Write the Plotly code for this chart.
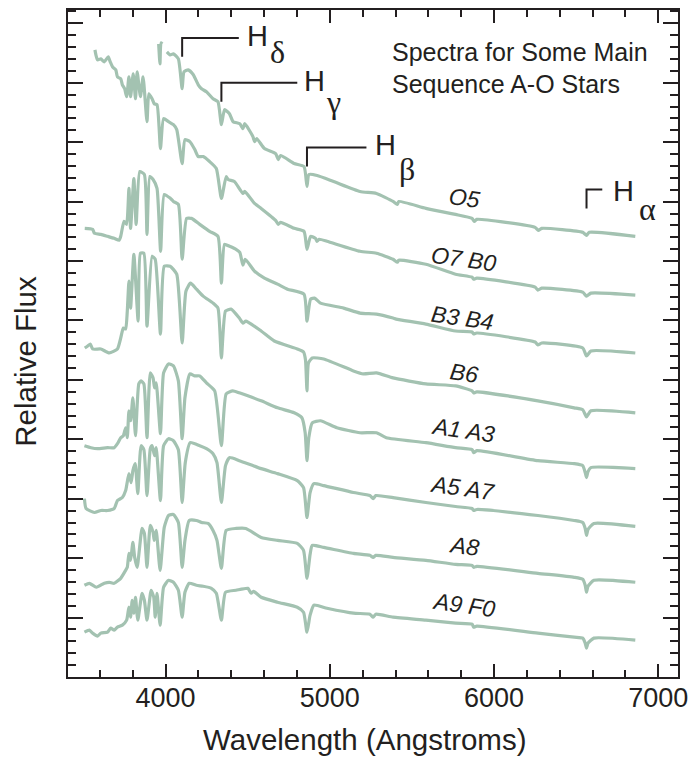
import plotly.graph_objects as go

# ---------------- data (wavelength in Angstroms, relative flux with vertical offsets) -------------
o5_wl = [3958, 3966, 3972, 3980, None, 4008, 4028, 4048, 4078, 4101, 4112, 4138, 4169, 4199, 4219, 4249,
         4289, 4319, 4340, 4359, 4389, 4411, 4452, 4471, 4482, 4532, 4542, 4555, 4602, 4670, 4686, 4700,
         4783, 4843, 4861, 4873, 4923, 5023, 5184, 5284, 5385, 5411, 5420, 5585, 5766, 5866, 5880, 5895,
         6250, 6270, 6290, 6540, 6563, 6580, 6860]
o5_flux = [635, 615, 636, 635, None, 627, 624, 625, 620, 590, 607, 609, 604, 594, 590, 587,
           580, 577, 554, 569, 565, 557, 555, 550, 555, 542, 537, 540, 530, 525, 519, 523,
           515, 512, 492, 504, 503, 497, 487, 485, 477, 474, 477, 470, 464, 460, 457, 459,
           451, 448, 450, 446, 443, 446, 442]

o7b0_wl = [3570, 3576, 3586, 3606, 3627, 3651, 3663, 3677, 3697, 3707, 3727, 3737, 3751, 3763, 3777,
           3787, 3803, 3817, 3827, 3847, 3863, 3887, 3898, 3918, 3931, 3948, 3969, 3988, 4018, 4048,
           4068, 4101, 4118, 4148, 4178, 4199, 4229, 4268, 4309, 4340, 4369, 4381, 4419, 4471, 4482,
           4542, 4582, 4670, 4686, 4700, 4783, 4843, 4861, 4883, 4913, 4922, 4935, 4983, 5184, 5284,
           5385, 5411, 5420, 5585, 5766, 5866, 5876, 5895, 6250, 6267, 6290, 6540, 6563, 6590, 6860]
o7b0_flux = [629, 624, 619, 620, 617, 622, 617, 612, 609, 602, 600, 594, 590, 582, 602,
             582, 605, 580, 607, 582, 602, 557, 585, 580, 575, 574, 530, 560, 557, 554,
             549, 515, 539, 537, 529, 522, 522, 517, 510, 480, 502, 499, 497, 485, 487,
             475, 470, 458, 454, 456, 450, 447, 429, 442, 440, 437, 439, 437, 427, 425,
             419, 416, 418, 414, 404, 401, 399, 400, 391, 388, 390, 386, 382, 385, 383]

b3b4_wl = [3508, 3556, 3567, 3606, 3647, 3687, 3717, 3727, 3747, 3763, 3777, 3787, 3807, 3821, 3843,
           3871, 3887, 3904, 3924, 3948, 3970, 3992, 4030, 4048, 4078, 4101, 4128, 4158, 4208, 4268,
           4319, 4340, 4359, 4389, 4429, 4452, 4471, 4485, 4542, 4602, 4682, 4742, 4843, 4861, 4883,
           4907, 4943, 5084, 5184, 5284, 5385, 5404, 5585, 5766, 5866, 5876, 5895, 6250, 6267, 6290,
           6540, 6563, 6590, 6860]
b3b4_flux = [450, 449, 445, 444, 442, 440, 438, 442, 457, 454, 490, 450, 500, 454, 507,
             504, 444, 502, 499, 490, 427, 484, 480, 477, 474, 419, 460, 460, 454, 447,
             442, 395, 434, 432, 429, 426, 413, 419, 407, 400, 394, 389, 384, 357, 379,
             380, 375, 370, 365, 364, 360, 359, 354, 347, 346, 344, 345, 336, 333, 335,
             330, 322, 327, 325]

b6_wl = [3508, 3526, 3542, 3556, 3606, 3657, 3707, 3727, 3743, 3757, 3767, 3777, 3787, 3807,
         3833, 3847, 3868, 3887, 3918, 3937, 3969, 3992, 4028, 4068, 4101, 4124, 4152, 4188, 4229,
         4289, 4319, 4340, 4365, 4399, 4449, 4471, 4489, 4582, 4662, 4802, 4840, 4852, 4861, 4870,
         4893, 4963, 5144, 5204, 5284, 5385, 5585, 5766, 5866, 5876, 5895, 6267, 6488, 6540, 6563,
         6590, 6860]
b6_flux = [330, 332, 334, 329, 329, 325, 329, 340, 350, 349, 367, 397, 370, 424,
           357, 425, 425, 352, 422, 419, 344, 412, 412, 404, 335, 387, 395, 389, 382,
           375, 370, 320, 367, 369, 360, 355, 357, 347, 337, 329, 326, 318, 287, 315,
           320, 319, 307, 304, 305, 300, 294, 292, 287, 285, 286, 277, 270, 268, 261,
           267, 265]

a1a3_wl = [3506, 3546, 3586, 3647, 3687, 3707, 3727, 3743, 3757, 3767, 3777, 3787, 3801, 3817, 3837,
           3851, 3868, 3887, 3907, 3924, 3933, 3943, 3969, 3988, 4018, 4048, 4078, 4101, 4118, 4148,
           4178, 4208, 4249, 4299, 4340, 4369, 4409, 4449, 4501, 4582, 4682, 4783, 4830, 4850, 4861,
           4872, 4893, 4943, 5043, 5184, 5284, 5344, 5585, 5766, 5866, 5876, 5895, 6267, 6488, 6540,
           6555, 6563, 6572, 6589, 6860]
a1a3_flux = [232, 230, 229, 230, 230, 234, 240, 242, 250, 240, 267, 257, 280, 242, 294,
             297, 294, 240, 305, 300, 290, 295, 244, 305, 314, 312, 297, 239, 280, 304,
             302, 302, 295, 287, 232, 284, 287, 285, 282, 277, 270, 265, 260, 245, 217,
             240, 255, 257, 250, 245, 245, 240, 235, 230, 228, 225, 227, 217, 214, 212,
             205, 200, 206, 210, 209]

a5a7_wl = [3506, 3516, 3567, 3606, 3647, 3687, 3707, 3737, 3757, 3777, 3790, 3801, 3815, 3831, 3851,
           3868, 3887, 3907, 3918, 3933, 3943, 3969, 3988, 4018, 4048, 4078, 4101, 4120, 4150, 4208,
           4249, 4289, 4313, 4340, 4365, 4389, 4449, 4501, 4582, 4682, 4802, 4840, 4861, 4880, 4903,
           4963, 5144, 5244, 5264, 5280, 5385, 5585, 5766, 5866, 5876, 5895, 6267, 6488, 6540, 6555,
           6563, 6572, 6608, 6860]
a5a7_flux = [179, 169, 165, 167, 167, 169, 177, 180, 187, 204, 195, 207, 214, 184, 232,
             228, 182, 229, 232, 222, 230, 177, 232, 239, 237, 228, 175, 215, 235, 232,
             229, 224, 215, 175, 212, 220, 217, 214, 209, 204, 197, 190, 160, 185, 194,
             192, 185, 182, 179, 182, 180, 175, 171, 169, 167, 168, 162, 157, 155, 149,
             142, 148, 154, 151]

a8_wl = [3506, 3536, 3579, 3627, 3657, 3687, 3727, 3757, 3767, 3777, 3787, 3801, 3812, 3827, 3857,
         3871, 3887, 3907, 3924, 3931, 3943, 3967, 3992, 4018, 4048, 4078, 4101, 4118, 4144, 4188,
         4219, 4259, 4289, 4313, 4340, 4369, 4429, 4489, 4582, 4682, 4802, 4840, 4861, 4880, 4893,
         4963, 5144, 5244, 5264, 5280, 5385, 5585, 5766, 5866, 5876, 5895, 6267, 6488, 6540, 6555,
         6563, 6572, 6608, 6860]
a8_flux = [92, 94, 90, 94, 95, 94, 99, 107, 110, 124, 117, 135, 120, 110, 149,
           144, 110, 152, 145, 137, 147, 107, 150, 162, 163, 155, 110, 137, 157, 157,
           155, 154, 147, 137, 109, 147, 149, 149, 140, 137, 134, 127, 99, 123, 132,
           130, 124, 122, 120, 122, 120, 117, 113, 112, 110, 111, 104, 100, 98, 92,
           85, 91, 97, 95]

a9f0_wl = [3506, 3536, 3556, 3586, 3606, 3647, 3666, 3687, 3707, 3737, 3763, 3777, 3787, 3797, 3807,
           3817, 3831, 3857, 3871, 3887, 3912, 3928, 3937, 3948, 3967, 3988, 4018, 4048, 4078, 4101,
           4118, 4144, 4188, 4229, 4279, 4309, 4340, 4365, 4429, 4501, 4521, 4535, 4582, 4682, 4802,
           4840, 4861, 4880, 4903, 4983, 5144, 5244, 5264, 5280, 5385, 5585, 5766, 5866, 5876, 5895,
           6267, 6488, 6540, 6555, 6563, 6572, 6608, 6860]
a9f0_flux = [45, 47, 44, 41, 44, 45, 49, 47, 50, 52, 57, 70, 60, 77, 64,
             80, 57, 84, 77, 57, 87, 80, 60, 84, 52, 90, 97, 95, 87, 60,
             85, 94, 92, 91, 89, 84, 57, 85, 87, 89, 84, 86, 80, 75, 70,
             65, 45, 62, 72, 69, 64, 63, 60, 63, 60, 57, 54, 53, 50, 51,
             44, 40, 39, 34, 29, 34, 39, 37]

star_names = ["O5", "O7 B0", "B3 B4", "B6", "A1 A3", "A5 A7", "A8", "A9 F0"]
label_wl = [5820, 5814, 5808, 5814, 5808, 5808, 5814, 5814]
label_flux = [480, 419, 360, 305, 248, 190, 131, 72]

# Balmer line markers
balmer_wl = [4101, 4340, 4861, 6563]
balmer_greek = ["δ", "γ", "β", "α"]
bracket_low = [622, 577, 512, 470]
bracket_high = [641, 596, 531, 489]
bracket_end_wl = [4446, 4802, 5223, 6659]
h_label_wl = [4562, 4905, 5339, 6789]
h_label_flux = [643, 598, 534, 487]
greek_label_wl = [4683, 5025, 5471, 6934]
greek_label_flux = [627, 577, 510, 469]

x_ticks = [4000, 5000, 6000, 7000]

# ---------------- figure ----------------
INK = "#231f20"
GREEN = "#a3c2b1"
FONT = "Liberation Sans, Arial, sans-serif"

spectra = [(o5_wl, o5_flux), (o7b0_wl, o7b0_flux), (b3b4_wl, b3b4_flux), (b6_wl, b6_flux),
           (a1a3_wl, a1a3_flux), (a5a7_wl, a5a7_flux), (a8_wl, a8_flux), (a9f0_wl, a9f0_flux)]

fig = go.Figure()
for (wl, fl), name in zip(spectra, star_names):
    fig.add_trace(go.Scatter(x=wl, y=fl, mode="lines", name=name, connectgaps=False,
                             line=dict(color=GREEN, width=3.2, shape="spline", smoothing=0.5),
                             showlegend=False, hoverinfo="skip"))

# bracket markers
bx, by = [], []
for w, lo, hi, we in zip(balmer_wl, bracket_low, bracket_high, bracket_end_wl):
    bx += [w, w, we, None]
    by += [lo, hi, hi, None]
fig.add_trace(go.Scatter(x=bx, y=by, mode="lines", line=dict(color=INK, width=2),
                         showlegend=False, hoverinfo="skip"))

annotations = []
for name, w, f in zip(star_names, label_wl, label_flux):
    annotations.append(dict(x=w, y=f, xref="x", yref="y", text=name, showarrow=False,
                            xanchor="center", yanchor="middle", textangle=8,
                            font=dict(family=FONT, size=23, color=INK, style="italic")))
for w, f in zip(h_label_wl, h_label_flux):
    annotations.append(dict(x=w, y=f, xref="x", yref="y", text="H", showarrow=False,
                            xanchor="center", yanchor="middle",
                            font=dict(family=FONT, size=29, color=INK)))
for g, w, f in zip(balmer_greek, greek_label_wl, greek_label_flux):
    annotations.append(dict(x=w, y=f, xref="x", yref="y", text=g, showarrow=False,
                            xanchor="center", yanchor="middle",
                            font=dict(family="Liberation Serif, Times New Roman, serif", size=32, color=INK)))

annotations.append(dict(x=5369, y=627, xref="x", yref="y", xanchor="left", yanchor="middle",
                        text="Spectra for Some Main",
                        showarrow=False, font=dict(family=FONT, size=25, color=INK)))
annotations.append(dict(x=5369, y=595, xref="x", yref="y", xanchor="left", yanchor="middle",
                        text="Sequence A-O Stars",
                        showarrow=False, font=dict(family=FONT, size=25, color=INK)))
annotations.append(dict(x=0.487, y=-0.094, xref="paper", yref="paper", xanchor="center", yanchor="middle",
                        text="Wavelength (Angstroms)",
                        showarrow=False, font=dict(family=FONT, size=29.5, color=INK)))
annotations.append(dict(x=-0.069, y=0.474, xref="paper", yref="paper", xanchor="center", yanchor="middle",
                        text="Relative Flux", textangle=-90,
                        showarrow=False, font=dict(family=FONT, size=29.5, color=INK)))

fig.update_layout(
    width=696, height=759,
    margin=dict(l=68, r=11, t=8, b=82),
    plot_bgcolor="white", paper_bgcolor="white",
    annotations=annotations,
    xaxis=dict(range=[3406, 7120], tickvals=x_ticks, ticktext=[str(v) for v in x_ticks],
               showgrid=False, zeroline=False, showline=True, linewidth=2, linecolor=INK,
               mirror="ticks", ticks="inside", ticklen=13, tickwidth=2, tickcolor=INK,
               ticklabelstandoff=-4,
               tickfont=dict(family=FONT, size=27, color=INK),
               minor=dict(ticks="inside", ticklen=7, tickwidth=2, tickcolor=INK, dtick=200, tick0=0,
                          showgrid=False)),
    yaxis=dict(range=[0, 669], tick0=0, dtick=59.6, showticklabels=False,
               showgrid=False, zeroline=False, showline=True, linewidth=2, linecolor=INK,
               mirror="ticks", ticks="inside", ticklen=15, tickwidth=2, tickcolor=INK,
               minor=dict(ticks="inside", ticklen=8, tickwidth=2, tickcolor=INK, dtick=11.92, tick0=0,
                          showgrid=False)),
)

fig.write_html("out.html", config={"displayModeBar": False},
               post_script="document.body.style.margin='0px';")
